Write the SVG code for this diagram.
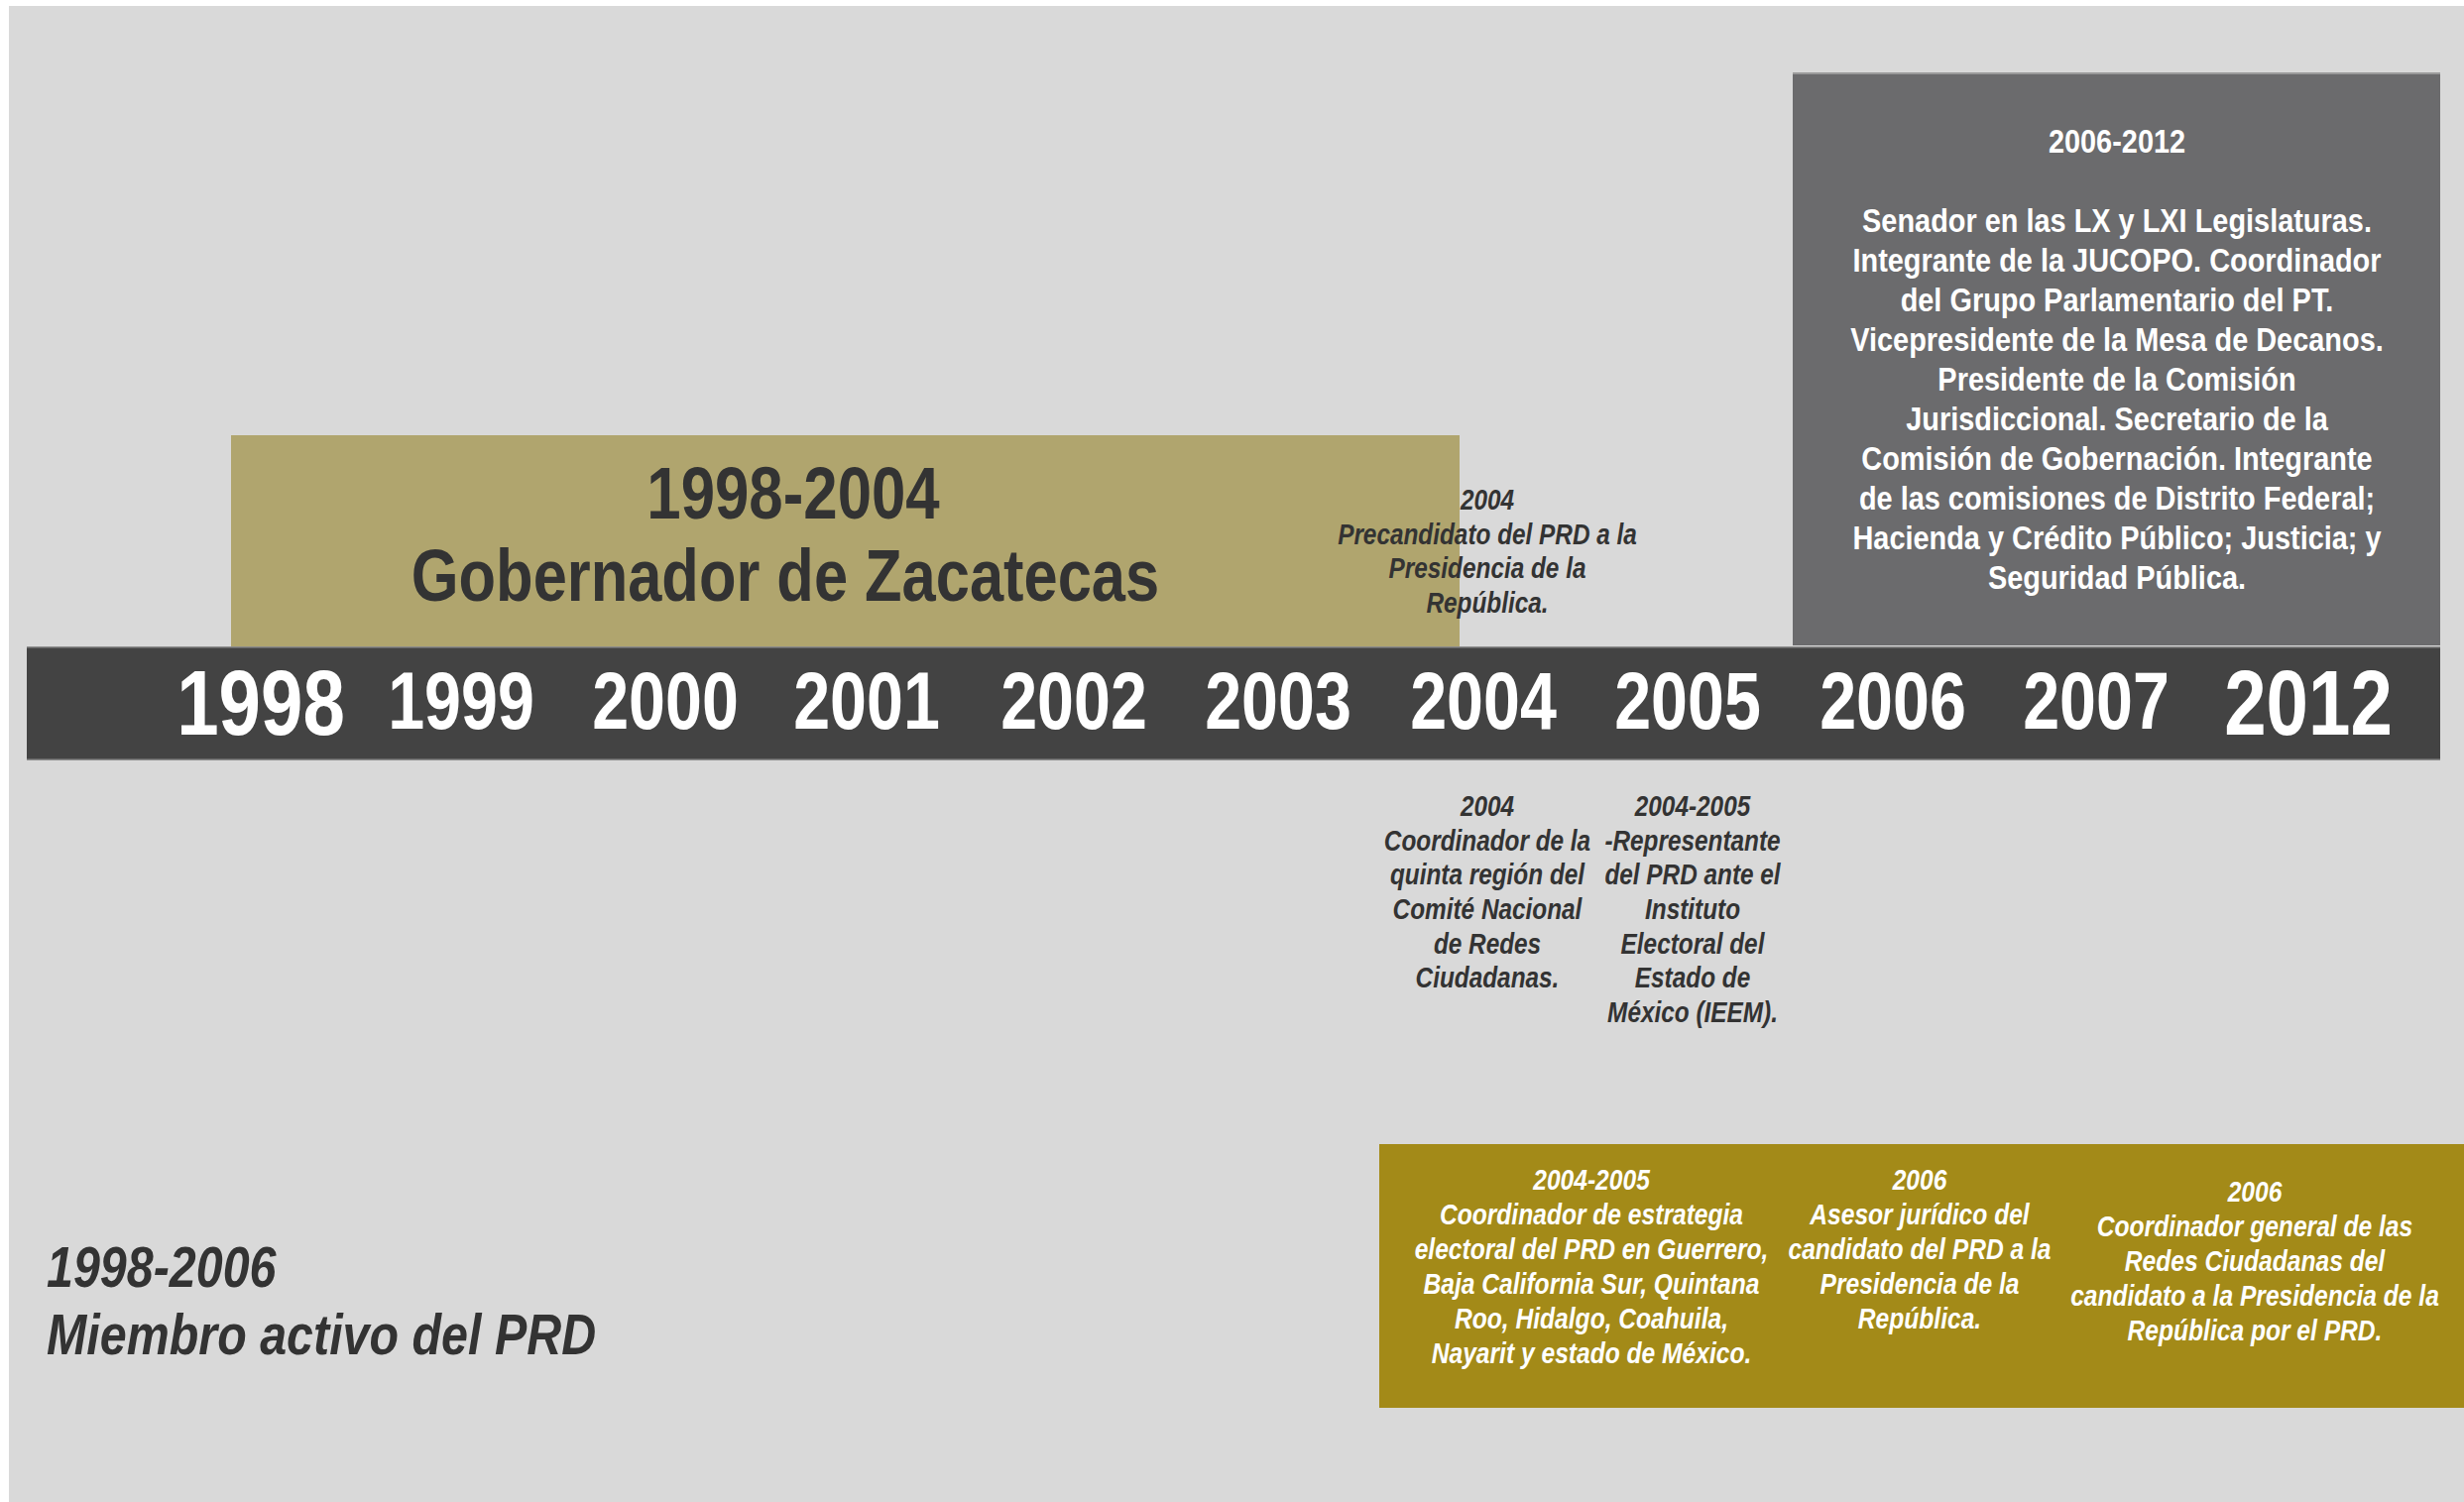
<svg xmlns="http://www.w3.org/2000/svg" width="2485" height="1515" viewBox="0 0 2485 1515">
<style>
.t{font-family:'Liberation Sans',Arial,sans-serif;font-weight:bold;text-anchor:middle}
.l{text-anchor:start}
.i{font-style:italic}
.dk{fill:#333333}
.wh{fill:#ffffff}
.yr{font-size:81px}
.yb{font-size:93px}
.s34{font-size:34px}
.s29{font-size:29px}
.s30{font-size:30px}
</style>
<rect x="0" y="0" width="2485" height="1515" fill="#ffffff"/>
<rect x="9" y="6" width="2476" height="1509" fill="#d9d9d9"/>

<g id="gobernador">
<rect x="233" y="439" width="1239" height="213" fill="#b0a56e"/>
<g transform="translate(800,0) scale(0.835,1)">
<text class="t dk" font-size="74" x="0" y="523">1998-2004</text>
</g>
<g transform="translate(792,0) scale(0.83,1)">
<text class="t dk" font-size="74" x="0" y="606">Gobernador de Zacatecas</text>
</g>
</g>

<g id="senador">
<rect x="1808" y="73" width="653" height="578" fill="#6b6b6d"/>
<rect x="1808" y="73" width="653" height="2" fill="#9a9a9a"/>
<g transform="translate(2135,0) scale(0.85,1)">
<text class="t wh s34" x="0" y="154">2006-2012</text>
<text class="t wh s34" x="0" y="234">Senador en las LX y LXI Legislaturas.</text>
<text class="t wh s34" x="0" y="274">Integrante de la JUCOPO. Coordinador</text>
<text class="t wh s34" x="0" y="314">del Grupo Parlamentario del PT.</text>
<text class="t wh s34" x="0" y="354">Vicepresidente de la Mesa de Decanos.</text>
<text class="t wh s34" x="0" y="394">Presidente de la Comisión</text>
<text class="t wh s34" x="0" y="434">Jurisdiccional. Secretario de la</text>
<text class="t wh s34" x="0" y="474">Comisión de Gobernación. Integrante</text>
<text class="t wh s34" x="0" y="514">de las comisiones de Distrito Federal;</text>
<text class="t wh s34" x="0" y="554">Hacienda y Crédito Público; Justicia; y</text>
<text class="t wh s34" x="0" y="594">Seguridad Pública.</text>
</g>
</g>

<g id="precandidato">
<g transform="translate(1500,0) scale(0.84,1)">
<text class="t i dk s29" x="0" y="514">2004</text>
<text class="t i dk s29" x="0" y="549">Precandidato del PRD a la</text>
<text class="t i dk s29" x="0" y="583">Presidencia de la</text>
<text class="t i dk s29" x="0" y="618">República.</text>
</g>
</g>

<g id="timeline">
<rect x="27" y="652" width="2434" height="115" fill="#434343"/>
<rect x="27" y="652" width="2434" height="1.5" fill="#8a8a8a"/>
<rect x="27" y="765.5" width="2434" height="1.5" fill="#8a8a8a"/>
<g class="t wh">
<text class="yb" transform="translate(263,741) scale(0.82,1)">1998</text>
<text class="yr" transform="translate(465,735) scale(0.82,1)">1999</text>
<text class="yr" transform="translate(671,735) scale(0.82,1)">2000</text>
<text class="yr" transform="translate(874,735) scale(0.82,1)">2001</text>
<text class="yr" transform="translate(1083,735) scale(0.82,1)">2002</text>
<text class="yr" transform="translate(1289,735) scale(0.82,1)">2003</text>
<text class="yr" transform="translate(1496,735) scale(0.82,1)">2004</text>
<text class="yr" transform="translate(1702,735) scale(0.82,1)">2005</text>
<text class="yr" transform="translate(1909,735) scale(0.82,1)">2006</text>
<text class="yr" transform="translate(2114,735) scale(0.82,1)">2007</text>
<text class="yb" transform="translate(2328,741) scale(0.82,1)">2012</text>
</g>
</g>

<g id="coordinador-2004">
<g transform="translate(1500,0) scale(0.84,1)">
<text class="t i dk s29" x="0" y="823">2004</text>
<text class="t i dk s29" x="0" y="858">Coordinador de la</text>
<text class="t i dk s29" x="0" y="892">quinta región del</text>
<text class="t i dk s29" x="0" y="927">Comité Nacional</text>
<text class="t i dk s29" x="0" y="962">de Redes</text>
<text class="t i dk s29" x="0" y="996">Ciudadanas.</text>
</g>
</g>

<g id="representante">
<g transform="translate(1707,0) scale(0.84,1)">
<text class="t i dk s29" x="0" y="823">2004-2005</text>
<text class="t i dk s29" x="0" y="858">-Representante</text>
<text class="t i dk s29" x="0" y="892">del PRD ante el</text>
<text class="t i dk s29" x="0" y="927">Instituto</text>
<text class="t i dk s29" x="0" y="962">Electoral del</text>
<text class="t i dk s29" x="0" y="996">Estado de</text>
<text class="t i dk s29" x="0" y="1031">México (IEEM).</text>
</g>
</g>

<g id="bottom-box">
<rect x="1391" y="1154" width="1094" height="266" fill="#a38a18"/>
</g>

<g id="estrategia">
<g transform="translate(1605,0) scale(0.82,1)">
<text class="t i wh s30" x="0" y="1200">2004-2005</text>
<text class="t i wh s30" x="0" y="1235">Coordinador de estrategia</text>
<text class="t i wh s30" x="0" y="1270">electoral del PRD en Guerrero,</text>
<text class="t i wh s30" x="0" y="1305">Baja California Sur, Quintana</text>
<text class="t i wh s30" x="0" y="1340">Roo, Hidalgo, Coahuila,</text>
<text class="t i wh s30" x="0" y="1375">Nayarit y estado de México.</text>
</g>
</g>

<g id="asesor">
<g transform="translate(1936,0) scale(0.82,1)">
<text class="t i wh s30" x="0" y="1200">2006</text>
<text class="t i wh s30" x="0" y="1235">Asesor jurídico del</text>
<text class="t i wh s30" x="0" y="1270">candidato del PRD a la</text>
<text class="t i wh s30" x="0" y="1305">Presidencia de la</text>
<text class="t i wh s30" x="0" y="1340">República.</text>
</g>
</g>

<g id="redes">
<g transform="translate(2274,0) scale(0.82,1)">
<text class="t i wh s30" x="0" y="1212">2006</text>
<text class="t i wh s30" x="0" y="1247">Coordinador general de las</text>
<text class="t i wh s30" x="0" y="1282">Redes Ciudadanas del</text>
<text class="t i wh s30" x="0" y="1317">candidato a la Presidencia de la</text>
<text class="t i wh s30" x="0" y="1352">República por el PRD.</text>
</g>
</g>

<g id="miembro">
<g transform="translate(47,0) scale(0.835,1)">
<text class="t l i dk" font-size="58" x="0" y="1298">1998-2006</text>
<text class="t l i dk" font-size="58" x="0" y="1366">Miembro activo del PRD</text>
</g>
</g>

<g id="connectors"></g>
</svg>
